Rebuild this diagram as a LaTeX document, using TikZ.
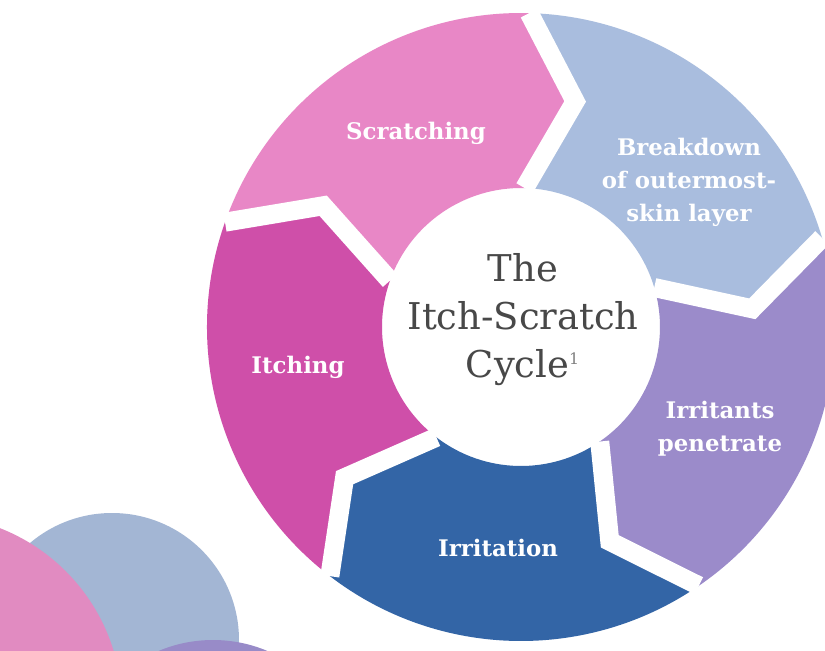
\documentclass[tikz,border=0pt]{standalone}
\usepackage{fontspec}
\setmainfont{DejaVu Serif}
\usepackage{tikz}
\usetikzlibrary{positioning}
\definecolor{scratchpink}{RGB}{232,135,198}
\definecolor{breakblue}{RGB}{169,189,222}
\definecolor{itchmagenta}{RGB}{207,79,169}
\definecolor{irrpurple}{RGB}{155,139,202}
\definecolor{irrblue}{RGB}{51,101,166}
\definecolor{dotpink}{RGB}{225,139,193}
\definecolor{dotblue}{RGB}{163,182,212}
\definecolor{dotpurple}{RGB}{152,139,200}
\definecolor{titlegrey}{RGB}{72,72,72}
\tikzset{seg label/.style={text=white,align=center,inner sep=0pt,
                           font=\bfseries\fontsize{13}{18.8}\selectfont},
         title label/.style={text=titlegrey,align=center,inner sep=0pt,
                             font=\fontsize{21}{27.3}\selectfont},
         gap line/.style={white,line width=10.8pt,line join=miter,line cap=square},
}
\begin{document}
\begin{tikzpicture}[x=0.02cm,y=0.02cm]

\clip (-521,-323) rectangle (304,327);
\fill[white] (-521,-323) rectangle (304,327);

% ring parts, boundaries every 72 degrees
\fill[scratchpink] (160.5:314) -- (148.5:232) -- (160.5:139)
    arc[start angle=160.5,end angle=88.5,radius=139] -- (76.5:232) -- (88.5:314)
    arc[start angle=88.5,end angle=160.5,radius=314] -- cycle;
\fill[breakblue] (88.5:314) -- (76.5:232) -- (88.5:139)
    arc[start angle=88.5,end angle=16.5,radius=139] -- (4.5:232) -- (16.5:314)
    arc[start angle=16.5,end angle=88.5,radius=314] -- cycle;
\fill[irrpurple] (16.5:314) -- (4.5:232) -- (16.5:139)
    arc[start angle=16.5,end angle=-55.5,radius=139] -- (-67.5:232) -- (-55.5:314)
    arc[start angle=-55.5,end angle=16.5,radius=314] -- cycle;
\fill[irrblue] (-55.5:314) -- (-67.5:232) -- (-55.5:139)
    arc[start angle=-55.5,end angle=-127.5,radius=139] -- (-139.5:232) -- (-127.5:314)
    arc[start angle=-127.5,end angle=-55.5,radius=314] -- cycle;
\fill[itchmagenta] (-127.5:314) -- (-139.5:232) -- (-127.5:139)
    arc[start angle=-127.5,end angle=-199.5,radius=139] -- (-211.5:232) -- (-199.5:314)
    arc[start angle=-199.5,end angle=-127.5,radius=314] -- cycle;

\draw[gap line] (160.5:314) -- (148.5:232) -- (160.5:139);
\draw[gap line] (88.5:314) -- (76.5:232) -- (88.5:139);
\draw[gap line] (16.5:314) -- (4.5:232) -- (16.5:139);
\draw[gap line] (-55.5:314) -- (-67.5:232) -- (-55.5:139);
\draw[gap line] (-127.5:314) -- (-139.5:232) -- (-127.5:139);

\node[seg label] (scratching) at (-105,194) {Scratching};
\node[seg label] (breakdown) at (168,145) {Breakdown\\of outermost-\\skin layer};
\node[seg label] (irritants) at (199,-102) {Irritants\\penetrate};
\node[seg label] (irritation) at (-23,-221) {Irritation};
\node[seg label] (itching) at (-223,-40) {Itching};

\node[title label] (cycle) at (2,7)
    {The\\Itch-Scratch\\Cycle{\color{black!50}\textsuperscript{\fontsize{9}{9}\selectfont 1}}};

% bottom left circles
\fill[dotblue] (-409,-313) circle[radius=127];
\fill[dotpurple] (-308,-453) circle[radius=140];
\fill[dotpink] (-591,-380) circle[radius=192];

\end{tikzpicture}
\end{document}
